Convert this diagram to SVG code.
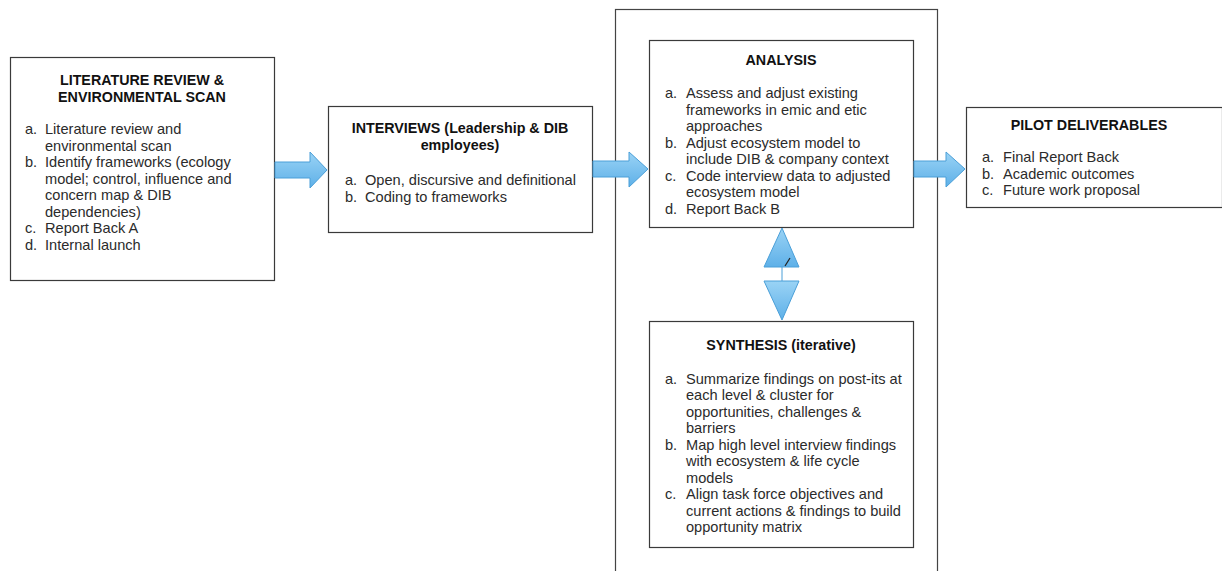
<svg xmlns="http://www.w3.org/2000/svg" width="1222" height="571" viewBox="0 0 1222 571">
<style>
.box{fill:#fff;stroke:#3a3a3a;stroke-width:1.2}
.outer{fill:none;stroke:#444;stroke-width:1.2}
.t{font-family:"Liberation Sans",Arial,sans-serif;font-size:14.6px;fill:#2b2b2b}
.h{font-weight:bold;font-size:14.3px;text-anchor:middle;fill:#111}
.arr{fill:url(#g);stroke:#4a9fd8;stroke-width:1}
</style>
<defs>
<linearGradient id="g" x1="0" y1="0" x2="0" y2="1">
<stop offset="0" stop-color="#9ad3f5"/>
<stop offset="1" stop-color="#5eb0e8"/>
</linearGradient>
</defs>
<rect width="1222" height="571" fill="#fff"/>
<rect class="outer" x="615.5" y="9.5" width="322" height="570"/>

<g id="lit">
<rect class="box" x="10.5" y="57.5" width="264" height="223"/>
<text class="t h" x="142" y="85">LITERATURE REVIEW &amp;</text>
<text class="t h" x="142" y="102">ENVIRONMENTAL SCAN</text>
<text class="t" x="25" y="134">a.</text><text class="t" x="45" y="134">Literature review and</text>
<text class="t" x="45" y="150.5">environmental scan</text>
<text class="t" x="25" y="167">b.</text><text class="t" x="45" y="167">Identify frameworks (ecology</text>
<text class="t" x="45" y="183.5">model; control, influence and</text>
<text class="t" x="45" y="200">concern map &amp; DIB</text>
<text class="t" x="45" y="216.5">dependencies)</text>
<text class="t" x="25" y="233">c.</text><text class="t" x="45" y="233">Report Back A</text>
<text class="t" x="25" y="249.5">d.</text><text class="t" x="45" y="249.5">Internal launch</text>
</g>

<g id="interviews">
<rect class="box" x="328.5" y="106.5" width="264" height="126"/>
<text class="t h" x="460" y="133">INTERVIEWS (Leadership &amp; DIB</text>
<text class="t h" x="460" y="150">employees)</text>
<text class="t" x="345" y="185">a.</text><text class="t" x="365" y="185">Open, discursive and definitional</text>
<text class="t" x="345" y="201.5">b.</text><text class="t" x="365" y="201.5">Coding to frameworks</text>
</g>

<g id="analysis">
<rect class="box" x="649.5" y="40.5" width="264" height="187"/>
<text class="t h" x="781" y="65">ANALYSIS</text>
<text class="t" x="665" y="98">a.</text><text class="t" x="686" y="98">Assess and adjust existing</text>
<text class="t" x="686" y="114.5">frameworks in emic and etic</text>
<text class="t" x="686" y="131">approaches</text>
<text class="t" x="665" y="147.5">b.</text><text class="t" x="686" y="147.5">Adjust ecosystem model to</text>
<text class="t" x="686" y="164">include DIB &amp; company context</text>
<text class="t" x="665" y="180.5">c.</text><text class="t" x="686" y="180.5">Code interview data to adjusted</text>
<text class="t" x="686" y="197">ecosystem model</text>
<text class="t" x="665" y="213.5">d.</text><text class="t" x="686" y="213.5">Report Back B</text>
</g>

<g id="synthesis">
<rect class="box" x="649.5" y="321.5" width="264" height="226"/>
<text class="t h" x="781" y="350">SYNTHESIS (iterative)</text>
<text class="t" x="665" y="383.5">a.</text><text class="t" x="686" y="383.5">Summarize findings on post-its at</text>
<text class="t" x="686" y="400">each level &amp; cluster for</text>
<text class="t" x="686" y="416.5">opportunities, challenges &amp;</text>
<text class="t" x="686" y="433">barriers</text>
<text class="t" x="665" y="449.5">b.</text><text class="t" x="686" y="449.5">Map high level interview findings</text>
<text class="t" x="686" y="466">with ecosystem &amp; life cycle</text>
<text class="t" x="686" y="482.5">models</text>
<text class="t" x="665" y="499">c.</text><text class="t" x="686" y="499">Align task force objectives and</text>
<text class="t" x="686" y="515.5">current actions &amp; findings to build</text>
<text class="t" x="686" y="532">opportunity matrix</text>
</g>

<g id="pilot">
<rect class="box" x="966.5" y="107.5" width="256" height="100"/>
<text class="t h" x="1089" y="130">PILOT DELIVERABLES</text>
<text class="t" x="982" y="162">a.</text><text class="t" x="1003" y="162">Final Report Back</text>
<text class="t" x="982" y="178.5">b.</text><text class="t" x="1003" y="178.5">Academic outcomes</text>
<text class="t" x="982" y="195">c.</text><text class="t" x="1003" y="195">Future work proposal</text>
</g>

<g id="connectors">
<polygon class="arr" points="275,162 310,162 310,152 327,170 310,188 310,178 275,178"/>
<polygon class="arr" points="593,161 629,161 629,152 648,169 629,187 629,177 593,177"/>
<polygon class="arr" points="914,161 946,161 946,152 965,169 946,187 946,177 914,177"/>
<polygon class="arr" points="782,228 799,267 764,267"/>
<line x1="782" y1="267" x2="782" y2="281" stroke="#4a9fd8" stroke-width="1"/>
<polygon class="arr" points="764,281 799,281 782,320"/>
<line x1="785" y1="266" x2="790" y2="258" stroke="#222" stroke-width="1.2"/>
</g>
</svg>
